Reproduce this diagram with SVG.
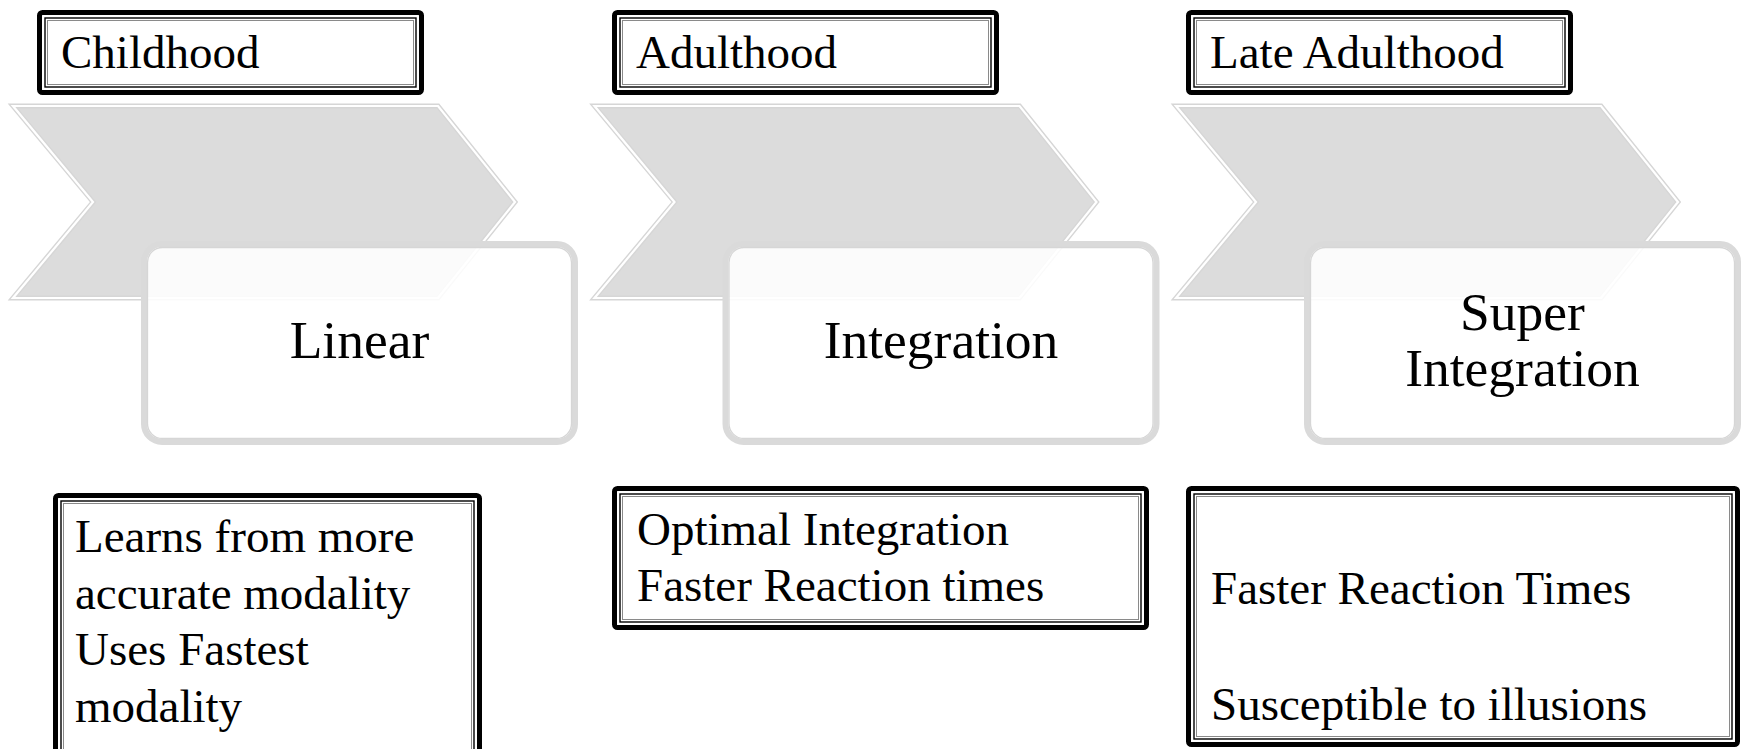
<svg xmlns="http://www.w3.org/2000/svg" width="1745" height="749" viewBox="0 0 1745 749">
<defs>
<style>
.chev{fill:#dcdcdc;stroke:#d6d6d6;stroke-width:5;stroke-linejoin:miter}
.chevin{fill:none;stroke:#ffffff;stroke-width:2.2;stroke-linejoin:miter}
.rr{fill:#ffffff;fill-opacity:0.88;stroke:#dadada;stroke-width:6}
.rrin{fill:none;stroke:#d6d6d6;stroke-width:1.3}
.bo{fill:#ffffff;stroke:#000000;stroke-width:5}
.bi{fill:none;stroke:#000000;stroke-width:1.4}
.bi2{fill:none;stroke:#8a8a8a;stroke-width:1}
.t{font-family:"Liberation Serif","Times New Roman",serif;fill:#000000}
.hd{font-size:47px}
.md{font-size:53.5px;text-anchor:middle}
.bd{font-size:47px}
</style>
<polygon id="chevshape" points="0,0 425,0 502,96 425,192 0,192 80,96"/>
</defs>
<rect x="0" y="0" width="1745" height="749" fill="#ffffff"/>

<g id="chevron1" transform="translate(13,106)">
<use href="#chevshape" class="chev"/>
<use href="#chevshape" class="chevin"/>
</g>
<g id="chevron2" transform="translate(594.5,106)">
<use href="#chevshape" class="chev"/>
<use href="#chevshape" class="chevin"/>
</g>
<g id="chevron3" transform="translate(1176,106)">
<use href="#chevshape" class="chev"/>
<use href="#chevshape" class="chevin"/>
</g>

<g id="stage-linear">
<rect class="rr" x="144" y="244" width="431" height="198" rx="18"/>
<rect class="rrin" x="147.5" y="247.5" width="424" height="191" rx="15"/>
<text class="t md" x="359.5" y="358">Linear</text>
</g>
<g id="stage-integration">
<rect class="rr" x="725.5" y="244" width="431" height="198" rx="18"/>
<rect class="rrin" x="729" y="247.5" width="424" height="191" rx="15"/>
<text class="t md" x="941" y="358">Integration</text>
</g>
<g id="stage-super">
<rect class="rr" x="1307" y="244" width="431" height="198" rx="18"/>
<rect class="rrin" x="1310.5" y="247.5" width="424" height="191" rx="15"/>
<text class="t md" x="1522.5" y="330">Super</text>
<text class="t md" x="1522.5" y="386">Integration</text>
</g>

<g id="header-childhood">
<rect class="bo" x="39.5" y="12.5" width="382" height="80" rx="3"/>
<rect class="bi" x="45" y="18" width="371" height="69"/>
<rect class="bi2" x="47.5" y="20.5" width="366" height="64"/>
<text class="t hd" x="61" y="68">Childhood</text>
</g>
<g id="header-adulthood">
<rect class="bo" x="614.5" y="12.5" width="382" height="80" rx="3"/>
<rect class="bi" x="620" y="18" width="371" height="69"/>
<rect class="bi2" x="622.5" y="20.5" width="366" height="64"/>
<text class="t hd" x="636" y="68">Adulthood</text>
</g>
<g id="header-late">
<rect class="bo" x="1188.5" y="12.5" width="382" height="80" rx="3"/>
<rect class="bi" x="1194" y="18" width="371" height="69"/>
<rect class="bi2" x="1196.5" y="20.5" width="366" height="64"/>
<text class="t hd" x="1210" y="68">Late Adulthood</text>
</g>

<g id="desc-childhood">
<rect class="bo" x="55.5" y="495.5" width="424" height="280" rx="3"/>
<rect class="bi" x="61" y="501" width="413" height="270"/>
<rect class="bi2" x="63.5" y="503.5" width="408" height="265"/>
<text class="t bd" x="75" y="552">Learns from more</text>
<text class="t bd" x="75" y="609">accurate modality</text>
<text class="t bd" x="75" y="665">Uses Fastest</text>
<text class="t bd" x="75" y="722">modality</text>
</g>
<g id="desc-adulthood">
<rect class="bo" x="614.5" y="488.5" width="532" height="139" rx="3"/>
<rect class="bi" x="620" y="494" width="521" height="128"/>
<rect class="bi2" x="622.5" y="496.5" width="516" height="123"/>
<text class="t bd" x="637" y="545">Optimal Integration</text>
<text class="t bd" x="637" y="601">Faster Reaction times</text>
</g>
<g id="desc-late">
<rect class="bo" x="1188.5" y="488.5" width="549" height="256" rx="3"/>
<rect class="bi" x="1194" y="494" width="538" height="245"/>
<rect class="bi2" x="1196.5" y="496.5" width="533" height="240"/>
<text class="t bd" x="1211" y="604">Faster Reaction Times</text>
<text class="t bd" x="1211" y="720">Susceptible to illusions</text>
</g>
</svg>
